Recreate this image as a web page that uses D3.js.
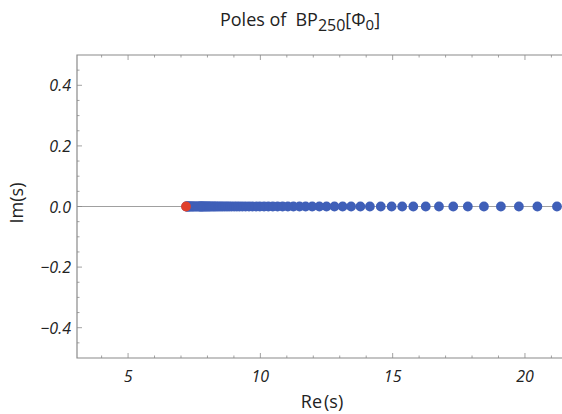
<!DOCTYPE html>
<html><head><meta charset="utf-8">
<script src="https://cdn.jsdelivr.net/npm/d3@7/dist/d3.min.js"></script>
<style>body{margin:0;background:#fff}svg{display:block}</style>
</head><body>
<svg id="c" width="562" height="414"></svg>
<script>
// Data
const poleRe = [21.21,20.47,19.77,19.09,18.45,17.84,17.29,16.75,16.25,15.78,15.36,14.96,14.55,14.14,
 13.78,13.43,13.11,12.80,12.50,12.23,11.96,11.71,11.48,11.25,11.04,10.84,10.65,10.47,10.30,10.14,
 9.98,9.84,9.70,9.57,9.44,9.32,9.21,9.11,9.01,8.91,8.82,8.74,8.66,8.58,8.51,8.44,8.37,8.31,8.25,
 8.20,8.14,8.09,8.05,8.00,7.96,7.92,7.88,7.84,7.81,7.78,7.75,7.72,7.69,7.64,7.59,7.54,7.49,7.45,
 7.41,7.37,7.33,7.30,7.27,7.24,7.22,7.20];
const poleIm = poleRe.map(() => 0);
const firstPole = [7.19, 0];
const xTicks = [5,10,15,20];
const yTicks = [-0.4,-0.2,0.0,0.2,0.4];

const svg = d3.select("#c");
const L=77, R=562, T=55, B=358;
const x = d3.scaleLinear().domain([3.07,21.4]).range([L,R]);
const y = d3.scaleLinear().domain([-0.5,0.5]).range([B,T]);
const frameCol = "#8a8a8a";

// zero line
svg.append("line").attr("x1",L).attr("x2",R).attr("y1",y(0)).attr("y2",y(0))
  .attr("stroke","#a0a0a0").attr("stroke-width",1);

// frame
svg.append("path").attr("d",`M${R+5},${T}H${L}V${B}H${R+5}`)
  .attr("fill","none").attr("stroke",frameCol).attr("stroke-width",1.2);

// ticks
const minorX = d3.range(4,22,1).filter(v=>!xTicks.includes(v));
const minorY = d3.range(-0.45,0.5,0.05).map(v=>+v.toFixed(2)).filter(v=>!yTicks.some(t=>Math.abs(t-v)<1e-9));
const tg = svg.append("g").attr("stroke",frameCol).attr("stroke-width",0.8);
xTicks.forEach(v=>{tg.append("line").attr("x1",x(v)).attr("x2",x(v)).attr("y1",B).attr("y2",B-5);
  tg.append("line").attr("x1",x(v)).attr("x2",x(v)).attr("y1",T).attr("y2",T+5);});
minorX.forEach(v=>{tg.append("line").attr("x1",x(v)).attr("x2",x(v)).attr("y1",B).attr("y2",B-2.5);
  tg.append("line").attr("x1",x(v)).attr("x2",x(v)).attr("y1",T).attr("y2",T+2.5);});
yTicks.forEach(v=>{tg.append("line").attr("x1",L).attr("x2",L+5).attr("y1",y(v)).attr("y2",y(v));});
minorY.forEach(v=>{tg.append("line").attr("x1",L).attr("x2",L+2.5).attr("y1",y(v)).attr("y2",y(v));});

// tick labels
const lab = {"font-family":"'Open Sans', sans-serif","font-style":"italic","font-size":"16px","fill":"#222"};
const xl = svg.append("g");
xTicks.forEach(v=>{const t=xl.append("text").attr("x",x(v)).attr("y",382).attr("text-anchor","middle").text(d3.format("d")(v));
  Object.entries(lab).forEach(([k,w])=>t.attr(k,w));});
yTicks.forEach(v=>{const t=xl.append("text").attr("x",71).attr("y",y(v)+6).attr("text-anchor","end")
  .text(d3.format(".1f")(v).replace("-","\u2212"));
  Object.entries(lab).forEach(([k,w])=>t.attr(k,w));});

// points
const pts = svg.append("g");
poleRe.forEach((v,i)=>pts.append("circle").attr("cx",x(v)).attr("cy",y(poleIm[i])).attr("r",4.9).attr("fill","#3f5fb8"));
pts.append("circle").attr("cx",x(firstPole[0])).attr("cy",y(firstPole[1])).attr("r",4.9).attr("fill","#e0402c");

// axis labels
svg.append("text").attr("x",322).attr("y",408).attr("text-anchor","middle")
  .attr("font-family","'Open Sans', sans-serif").attr("font-size","18px").attr("fill","#222")
  .html('Re<tspan dx="2">(s)</tspan>');
svg.append("text").attr("transform","translate(23,203) rotate(-90)").attr("text-anchor","middle")
  .attr("font-family","'Open Sans', sans-serif").attr("font-size","18px").attr("fill","#222")
  .text("Im(s)");

// title
const title = svg.append("text").attr("x",300).attr("y",26).attr("text-anchor","middle")
  .attr("font-family","'Open Sans', sans-serif").attr("font-size","18px").attr("fill","#222");
title.append("tspan").text("Poles of");
title.append("tspan").attr("dx",9).text("BP");
title.append("tspan").attr("dy",5).attr("font-size","16px").text("250");
title.append("tspan").attr("dy",-5).text("[\u03A6");
title.append("tspan").attr("dy",4).attr("font-size","15px").text("0");
title.append("tspan").attr("dy",-4).text("]");
</script>
</body></html>
